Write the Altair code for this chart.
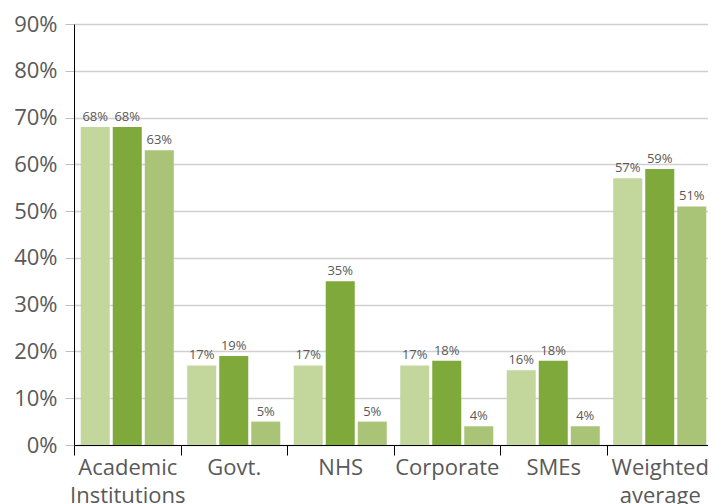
import altair as alt
import pandas as pd

categories = ["Academic Institutions", "Govt.", "NHS", "Corporate", "SMEs", "Weighted average"]
series = ["A", "B", "C"]
values_a = [68, 17, 17, 17, 16, 57]
values_b = [68, 19, 35, 18, 18, 59]
values_c = [63, 5, 5, 4, 4, 51]
colors = ["#C3D69B", "#7FA93A", "#A9C476"]

rows = []
for i, c in enumerate(categories):
    for s, vals in zip(series, [values_a, values_b, values_c]):
        rows.append({"category": c, "series": s, "value": vals[i], "label": f"{vals[i]}%"})
df = pd.DataFrame(rows)

FONT = "Open Sans"
GRAY = "#595959"

x = alt.X("category:N", sort=categories, title=None,
          scale=alt.Scale(paddingInner=0, paddingOuter=0),
          axis=alt.Axis(labelAngle=0, labelExpr="split(datum.label, ' ')",
                        tickBand="extent", domainColor="black", tickColor="black",
                        tickSize=10, labelFontSize=22, labelColor=GRAY, labelFont=FONT,
                        labelPadding=2, labelLineHeight=28, grid=False))
xo = alt.XOffset("series:N", sort=series,
                 scale=alt.Scale(paddingInner=0.094, paddingOuter=0.21))
y = alt.Y("value:Q", title=None,
          scale=alt.Scale(domain=[0, 90], nice=False),
          axis=alt.Axis(values=list(range(0, 91, 10)), labelExpr="datum.value + '%'",
                        domainColor="black", tickColor="#bfbfbf", tickSize=9,
                        labelFontSize=22, labelColor=GRAY, labelFont=FONT,
                        labelPadding=8, gridColor="#d0d0d0", gridWidth=1.3))

bars = alt.Chart(df).mark_bar().encode(
    x=x, xOffset=xo, y=y,
    color=alt.Color("series:N", sort=series, legend=None,
                    scale=alt.Scale(domain=series, range=colors)),
)
text = alt.Chart(df).mark_text(baseline="bottom", dy=-3, fontSize=13, color=GRAY, font=FONT).encode(
    x=x, xOffset=xo, y=y, text="label:N"
)

chart = (bars + text).properties(
    width=639, height=421,
    autosize=alt.AutoSizeParams(type="none"),
    padding={"left": 66, "top": 16, "right": -5, "bottom": 59},
).configure_view(stroke=None)

chart.save("out.html", embed_options={"renderer": "svg", "actions": False})
